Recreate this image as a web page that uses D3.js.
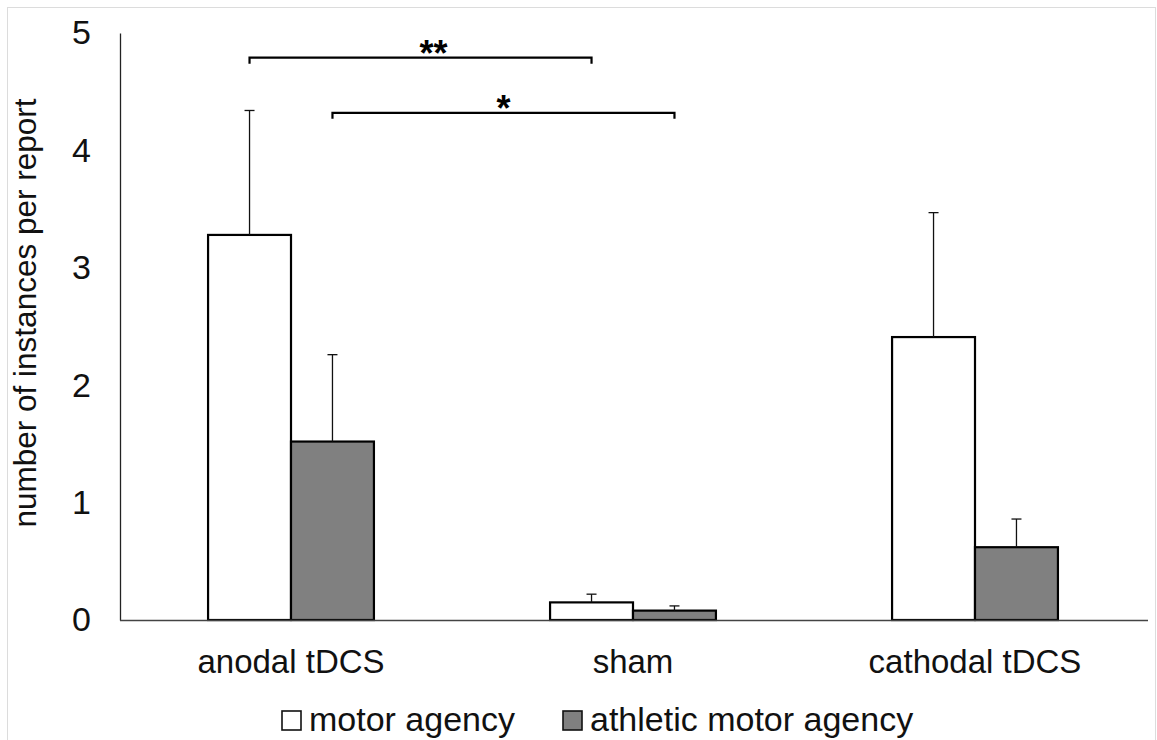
<!DOCTYPE html>
<html>
<head>
<meta charset="utf-8">
<script src="https://cdn.jsdelivr.net/npm/d3@7"></script>
<style>
  html, body { margin: 0; padding: 0; background: #fff; }
  svg { display: block; font-family: "Liberation Sans", Arial, sans-serif; }
</style>
</head>
<body>
<svg id="chart" width="1157" height="740"></svg>
<script>
// ---- data ----
const categories = ["anodal tDCS", "sham", "cathodal tDCS"];
const seriesNames = ["motor agency", "athletic motor agency"];
const motorMeans = [3.28, 0.15, 2.41];
const motorErrors = [1.06, 0.07, 1.06];
const athleticMeans = [1.52, 0.08, 0.62];
const athleticErrors = [0.74, 0.04, 0.24];
const yTicks = [0, 1, 2, 3, 4, 5];
const sigLabels = ["**", "*"];
const sigSeries = ["motor agency", "athletic motor agency"];
const sigFrom = ["anodal tDCS", "anodal tDCS"];
const sigTo = ["sham", "sham"];
const sigLevels = [4.79, 4.32];

// ---- build table ----
const meansBySeries = [motorMeans, athleticMeans];
const errsBySeries = [motorErrors, athleticErrors];
const rows = [];
categories.forEach((c, i) => {
  seriesNames.forEach((s, j) => {
    rows.push({ category: c, series: s, value: meansBySeries[j][i], err: errsBySeries[j][i] });
  });
});

const svg = d3.select("#chart");
const fills = { "motor agency": "#ffffff", "athletic motor agency": "#808080" };

// outer frame
svg.append("rect").attr("x", 7.5).attr("y", 7.5).attr("width", 1148).attr("height", 740)
  .attr("fill", "none").attr("stroke", "#dcdcdc").attr("stroke-width", 1);

const x0 = d3.scaleBand().domain(categories).range([120, 1146])
  .paddingInner(0.515).paddingOuter(0.2575);
const x1 = d3.scaleBand().domain(seriesNames).range([0, x0.bandwidth()]).padding(0);
const y = d3.scaleLinear().domain([0, 5]).range([620, 33]);

// y axis
const yAxis = svg.append("g").attr("transform", "translate(120,0)")
  .call(d3.axisLeft(y).tickValues(yTicks).tickSize(0).tickSizeOuter(0).tickPadding(29).tickFormat(d3.format("d")));
yAxis.select(".domain").attr("stroke", "#222").attr("stroke-width", 1.3);
yAxis.selectAll("text").attr("font-size", 34).attr("fill", "#111")
  .attr("font-family", "'Liberation Sans', Arial, sans-serif");

// bars
const bars = svg.append("g");
bars.selectAll("rect").data(rows).join("rect")
  .attr("x", d => x0(d.category) + x1(d.series))
  .attr("y", d => y(d.value))
  .attr("width", x1.bandwidth())
  .attr("height", d => y(0) - y(d.value))
  .attr("fill", d => fills[d.series])
  .attr("stroke", "#000").attr("stroke-width", 2.2);

// error bars
const eb = svg.append("g").attr("stroke", "#111").attr("stroke-width", 1.3);
rows.forEach(d => {
  const cx = x0(d.category) + x1(d.series) + x1.bandwidth() / 2;
  eb.append("line").attr("x1", cx).attr("x2", cx).attr("y1", y(d.value)).attr("y2", y(d.value + d.err));
  eb.append("line").attr("x1", cx - 5).attr("x2", cx + 5).attr("y1", y(d.value + d.err)).attr("y2", y(d.value + d.err));
});

// x axis
const xAxis = svg.append("g").attr("transform", "translate(0,620)")
  .call(d3.axisBottom(x0).tickSize(0).tickSizeOuter(0).tickPadding(30));
xAxis.select(".domain").attr("stroke", "#444").attr("stroke-width", 1.3)
  .attr("d", "M120,0.5H1148");
xAxis.selectAll("text").attr("font-size", 33).attr("fill", "#111")
  .attr("font-family", "'Liberation Sans', Arial, sans-serif");

// significance brackets
const sig = svg.append("g");
sigLabels.forEach((lab, k) => {
  const xa = x0(sigFrom[k]) + x1(sigSeries[k]) + x1.bandwidth() / 2;
  const xb = x0(sigTo[k]) + x1(sigSeries[k]) + x1.bandwidth() / 2;
  const yy = y(sigLevels[k]);
  sig.append("path")
    .attr("d", `M${xa},${yy + 6}V${yy}H${xb}V${yy + 6}`)
    .attr("fill", "none").attr("stroke", "#000").attr("stroke-width", 2.2);
  sig.append("text").attr("x", (xa + xb) / 2 + (k === 0 ? 13 : 0)).attr("y", yy + 8)
    .attr("text-anchor", "middle").attr("font-size", 36).attr("font-weight", "bold")
    .attr("fill", "#000").text(lab);
});

// y label
svg.append("text")
  .attr("transform", "translate(36,313) rotate(-90)")
  .attr("text-anchor", "middle").attr("font-size", 31.5).attr("fill", "#111")
  .text("number of instances per report");

// legend
const legend = svg.append("g");
let lx = 282;
seriesNames.forEach((s, j) => {
  legend.append("rect").attr("x", lx).attr("y", 711).attr("width", 19).attr("height", 19)
    .attr("fill", fills[s]).attr("stroke", "#111").attr("stroke-width", 1.6);
  const t = legend.append("text").attr("x", lx + 27).attr("y", 731)
    .attr("font-size", 34).attr("fill", "#111").text(s);
  lx = lx + 27 + t.node().getComputedTextLength() + 48;
});
</script>
</body>
</html>
